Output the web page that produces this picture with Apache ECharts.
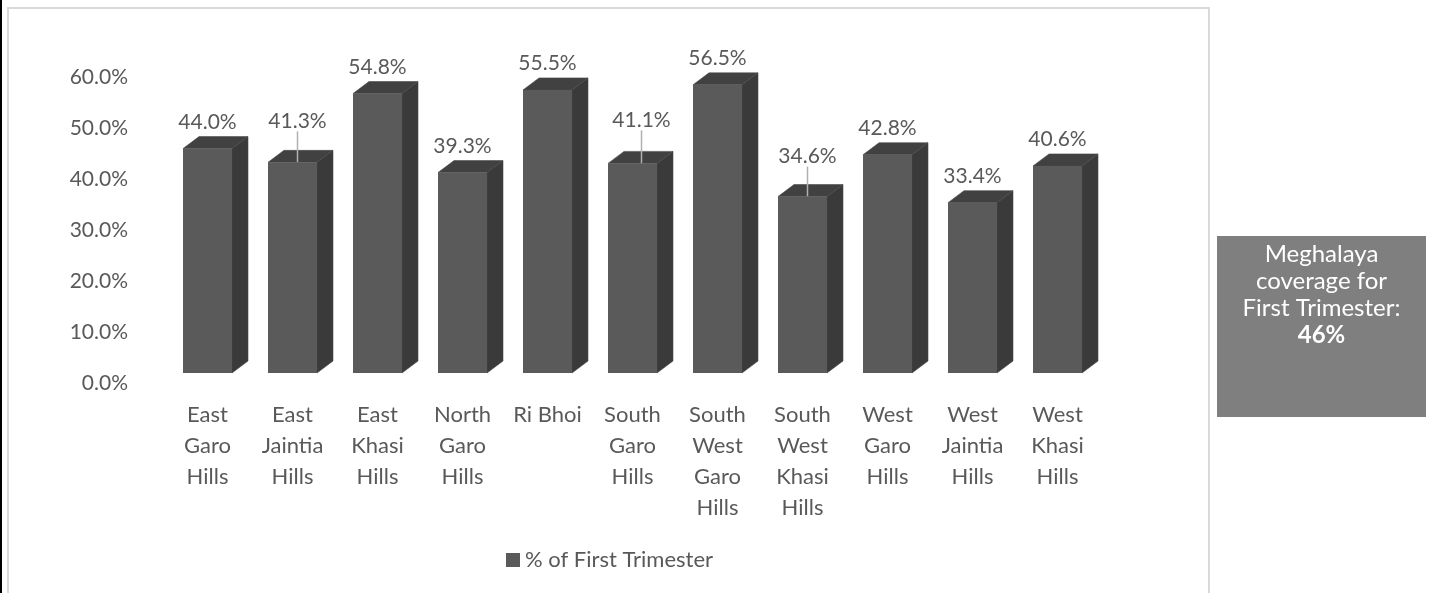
<!DOCTYPE html>
<html>
<head>
<meta charset="utf-8">
<script src="https://cdn.jsdelivr.net/npm/echarts@6/dist/echarts.min.js"></script>
<style>
  html, body { margin: 0; padding: 0; background: #fff; }
  #chart { width: 1434px; height: 593px; }
</style>
</head>
<body>
<div id="chart"></div>
<script>
const districts = ['East Garo Hills', 'East Jaintia Hills', 'East Khasi Hills', 'North Garo Hills', 'Ri Bhoi',
  'South Garo Hills', 'South West Garo Hills', 'South West Khasi Hills', 'West Garo Hills', 'West Jaintia Hills', 'West Khasi Hills'];
const firstTrimester = [44.0, 41.3, 54.8, 39.3, 55.5, 41.1, 56.5, 34.6, 42.8, 33.4, 40.6];
const yTicks = [0, 10, 20, 30, 40, 50, 60];
const stateCoverage = '46%';

const font = 'Lato, "Open Sans", sans-serif';
const textColor = '#595959';

// labels that excel pushed up, with a leader line
const shifted = { 1: [5, -15], 5: [9, -17], 7: [5, -14] };

const halfW = 24.5, depthX = 16, depthY = 12;

const chart = echarts.init(document.getElementById('chart'));

chart.setOption({
  animation: false,
  textStyle: { fontFamily: font },
  grid: { left: 165, right: 334, top: 67, bottom: 220 },
  legend: {
    left: 506,
    top: 549,
    padding: 0,
    itemWidth: 14,
    itemHeight: 14,
    icon: 'rect',
    textStyle: { color: textColor, fontSize: 22, fontFamily: font },
    data: ['% of First Trimester'],
  },
  xAxis: {
    type: 'category',
    data: districts,
    axisLine: { show: false },
    axisTick: { show: false },
    axisLabel: {
      color: textColor,
      fontSize: 22,
      lineHeight: 31,
      margin: 26,
      interval: 0,
      formatter: name => name === 'Ri Bhoi' ? name : name.split(' ').join('\n'),
    },
  },
  yAxis: {
    type: 'value',
    min: yTicks[0],
    max: yTicks[yTicks.length - 1],
    interval: 10,
    splitLine: { show: false },
    axisLine: { show: false },
    axisTick: { show: false },
    axisLabel: {
      color: textColor,
      fontSize: 21,
      margin: 37,
      verticalAlign: 'top',
      formatter: v => v.toFixed(1) + '%',
    },
  },
  series: [
    {
      type: 'custom',
      silent: true,
      z: 1,
      renderItem(params, api) {
        const top = api.coord([api.value(0), api.value(1)]);
        const base = api.coord([api.value(0), 0]);
        const x = top[0], y = top[1], b = base[1];
        return {
          type: 'group',
          children: [
            {
              type: 'polygon',
              shape: { points: [[x - halfW, y], [x - halfW + depthX, y - depthY], [x + halfW + depthX, y - depthY], [x + halfW, y]] },
              style: { fill: '#414141', stroke: '#4a4a4a', lineWidth: 0.6 },
            },
            {
              type: 'polygon',
              shape: { points: [[x + halfW, y], [x + halfW + depthX, y - depthY], [x + halfW + depthX, b - depthY], [x + halfW, b]] },
              style: { fill: '#3a3a3a', stroke: '#4a4a4a', lineWidth: 0.6 },
            },
          ],
        };
      },
      data: firstTrimester.map((v, i) => [i, v]),
    },
    {
      name: '% of First Trimester',
      type: 'bar',
      z: 2,
      barWidth: 49,
      itemStyle: { color: '#5a5a5a' },
      label: {
        show: true,
        position: 'top',
        distance: 16,
        color: textColor,
        fontSize: 21,
        formatter: p => p.value.toFixed(1) + '%',
      },
      labelLayout: p => shifted[p.dataIndex] ? { dx: shifted[p.dataIndex][0], dy: shifted[p.dataIndex][1] } : {},
      labelLine: { show: false, lineStyle: { color: '#b0b0b0', width: 1.5 } },
      data: firstTrimester.map((v, i) => shifted[i] ? { value: v, labelLine: { show: true } } : v),
    },
  ],
  graphic: [
    { type: 'rect', silent: true, shape: { x: 8, y: 8, width: 1201, height: 600 }, style: { fill: 'none', stroke: '#d9d9d9', lineWidth: 2 } },
    { type: 'rect', silent: true, shape: { x: 0, y: 0, width: 2, height: 593 }, style: { fill: '#000' } },
    { type: 'rect', silent: true, shape: { x: 1217, y: 236, width: 209, height: 181 }, style: { fill: '#7f7f7f' } },
    {
      type: 'text',
      silent: true,
      x: 1321.5,
      y: 241,
      style: {
        text: 'Meghalaya\ncoverage for\nFirst Trimester:\n{b|' + stateCoverage + '}',
        fill: '#fff',
        font: '24px ' + font,
        lineHeight: 27,
        align: 'center',
        verticalAlign: 'top',
        rich: { b: { fontWeight: 'bold', fontSize: 24, fill: '#fff', lineHeight: 27, fontFamily: font } },
      },
    },
  ],
});
</script>
</body>
</html>
